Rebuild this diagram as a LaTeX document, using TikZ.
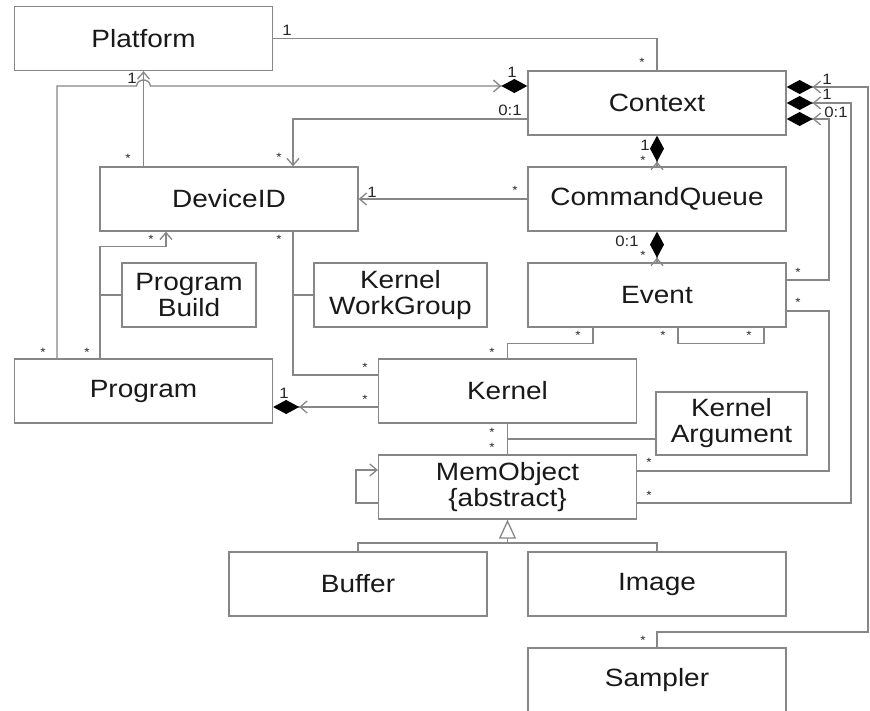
\documentclass[tikz,border=0pt]{standalone}
\usepackage{fontspec}
\setmainfont{Liberation Sans}[FakeStretch=1.12]
\usetikzlibrary{arrows.meta,calc}
\definecolor{linegray}{RGB}{135,135,135}
\tikzset{
  box/.style={draw=linegray, line width=1.3pt, minimum width=258pt, minimum height=64pt,
    font=\fontsize{25}{26}\selectfont, align=center, inner sep=0pt, text=black!90},
  lab/.style={font=\fontsize{15}{15}\selectfont, inner sep=0pt, text=black!85},
  ast/.style={font=\fontsize{12}{12}\selectfont, inner sep=0pt, text=black!85},
  conn/.style={draw=linegray, line width=1.3pt},
  nav/.style={conn, -{Straight Barb[length=7pt,width=12pt]}},
  comp/.style={conn, -{Straight Barb[length=7pt,width=12pt,sep=0pt] Diamond[length=26pt,width=14pt,black]}},
  gen/.style={conn, -{Triangle[open,length=19pt,width=17pt,fill=white]}},
}
\begin{document}
\begin{tikzpicture}[x=1pt,y=-1pt]
\useasboundingbox[fill=white] (0,0) rectangle (870,711);
% classes
\node[box] (platform) at (143.5,38.5) {Platform};
\node[box] (context) at (657,103) {Context};
\node[box] (deviceid) at (229,199) {DeviceID};
\node[box] (cq) at (657,199) {CommandQueue};
\node[box] (event) at (657,295) {Event};
\node[box, minimum width=134pt] (progbuild) at (189,295) {Program\\Build};
\node[box, minimum width=173pt] (kwg) at (400.5,295) {Kernel\\WorkGroup};
\node[box] (program) at (143.5,391) {Program};
\node[box] (kernel) at (507.5,391) {Kernel};
\node[box, minimum width=151pt, minimum height=63pt] (karg) at (731.5,423.5) {Kernel\\Argument};
\node[box] (memobj) at (507.5,487) {MemObject\\\{abstract\}};
\node[box] (buffer) at (358,584) {Buffer};
\node[box] (image) at (657,584) {Image};
\node[box] (sampler) at (657,680) {Sampler};
% connectors
\draw[conn] (platform.east) -| (context.north);
\draw[nav] (deviceid.north -| platform.south) -- (platform.south);
\coordinate (hopL) at (136.5,86);
\coordinate (hopR) at (150.5,86);
\draw[comp] ([xshift=-86.5pt]program.north) |- (hopL) .. controls +(1,-8) and +(-1,-8) .. (hopR) -- ([yshift=17pt]context.west);
\draw[nav] ([yshift=-16pt]context.west) -| ([xshift=64pt]deviceid.north);
\draw[nav] (cq.west) -- (deviceid.east);
\draw[comp] (cq.north) -- (context.south);
\draw[comp] (event.north) -- (cq.south);
\coordinate (sR) at (868,632);
\draw[comp] (sampler.north) |- (sR) |- ([yshift=16pt]context.east);
\coordinate (mR) at (851,103);
\draw[comp] ([yshift=-16pt]memobj.east) -| (mR) -- (context.east);
\coordinate (eR) at (829,119);
\draw[comp] ([yshift=15pt]event.east) -| (eR) -- ([yshift=-16pt]context.east);
\coordinate (emR) at (829,471);
\draw[conn] ([yshift=-16pt]event.east) -| (emR) -- ([yshift=16pt]memobj.east);
\draw[conn] ([xshift=-64pt]event.south) -- ++(0,16) -| (kernel.north);
\draw[conn] ([xshift=21pt]event.south) -- ++(0,16) -| ([xshift=107pt]event.south);
\draw[conn] (kernel.south) -- (memobj.north);
\coordinate (kam) at ($(kernel.south)!0.5!(memobj.north)$);
\draw[conn] (kam) -- (kam -| karg.west);
\draw[nav] ([yshift=-16pt]memobj.west) -- ++(-22,0) |- ([yshift=17pt]memobj.west);
\coordinate (gen) at (507.5,543);
\draw[gen] (gen) -- (memobj.south);
\draw[conn] (buffer.north) |- (gen) -| (image.north);
\draw[comp] ([yshift=-16pt]kernel.west) -- ([yshift=-16pt]program.east);
\draw[nav] ([xshift=-43.5pt]program.north) -- ++(0,-112) -| ([xshift=-63pt]deviceid.south);
\draw[conn] ([xshift=-22pt]progbuild.west) -- (progbuild.west);
\draw[conn] ([xshift=64pt]deviceid.south) |- ([yshift=16pt]kernel.west);
\draw[conn] ([xshift=-21pt]kwg.west) -- (kwg.west);
% multiplicities
\node[lab] (m1) at (287,30) {1};
\node[ast] (m2) at (642,62) {*};
\node[lab] (m3) at (132,78) {1};
\node[ast] (m4) at (128,158) {*};
\node[lab] (m5) at (512,72) {1};
\node[ast] (m6) at (43,352) {*};
\node[lab] (m7) at (510,110) {0:1};
\node[ast] (m8) at (279,157) {*};
\node[lab] (m9) at (372,192) {1};
\node[ast] (m10) at (515,190) {*};
\node[lab] (m11) at (645,145) {1};
\node[ast] (m12) at (643,160) {*};
\node[lab] (m13) at (627,241) {0:1};
\node[ast] (m14) at (643,255) {*};
\node[lab] (m15) at (827,79) {1};
\node[lab] (m16) at (827,94) {1};
\node[lab] (m17) at (836,112) {0:1};
\node[ast] (m18) at (798,272) {*};
\node[ast] (m19) at (798,302) {*};
\node[ast] (m20) at (649,462) {*};
\node[ast] (m21) at (649,495) {*};
\node[ast] (m22) at (643,640) {*};
\node[ast] (m23) at (578,335) {*};
\node[ast] (m24) at (492,352) {*};
\node[ast] (m25) at (663,335) {*};
\node[ast] (m26) at (749,335) {*};
\node[ast] (m27) at (492,432) {*};
\node[ast] (m28) at (492,447) {*};
\node[lab] (m29) at (284,393) {1};
\node[ast] (m30) at (365,399) {*};
\node[ast] (m31) at (151,239) {*};
\node[ast] (m32) at (87,352) {*};
\node[ast] (m33) at (279,239) {*};
\node[ast] (m34) at (365,367) {*};
\end{tikzpicture}
\end{document}
